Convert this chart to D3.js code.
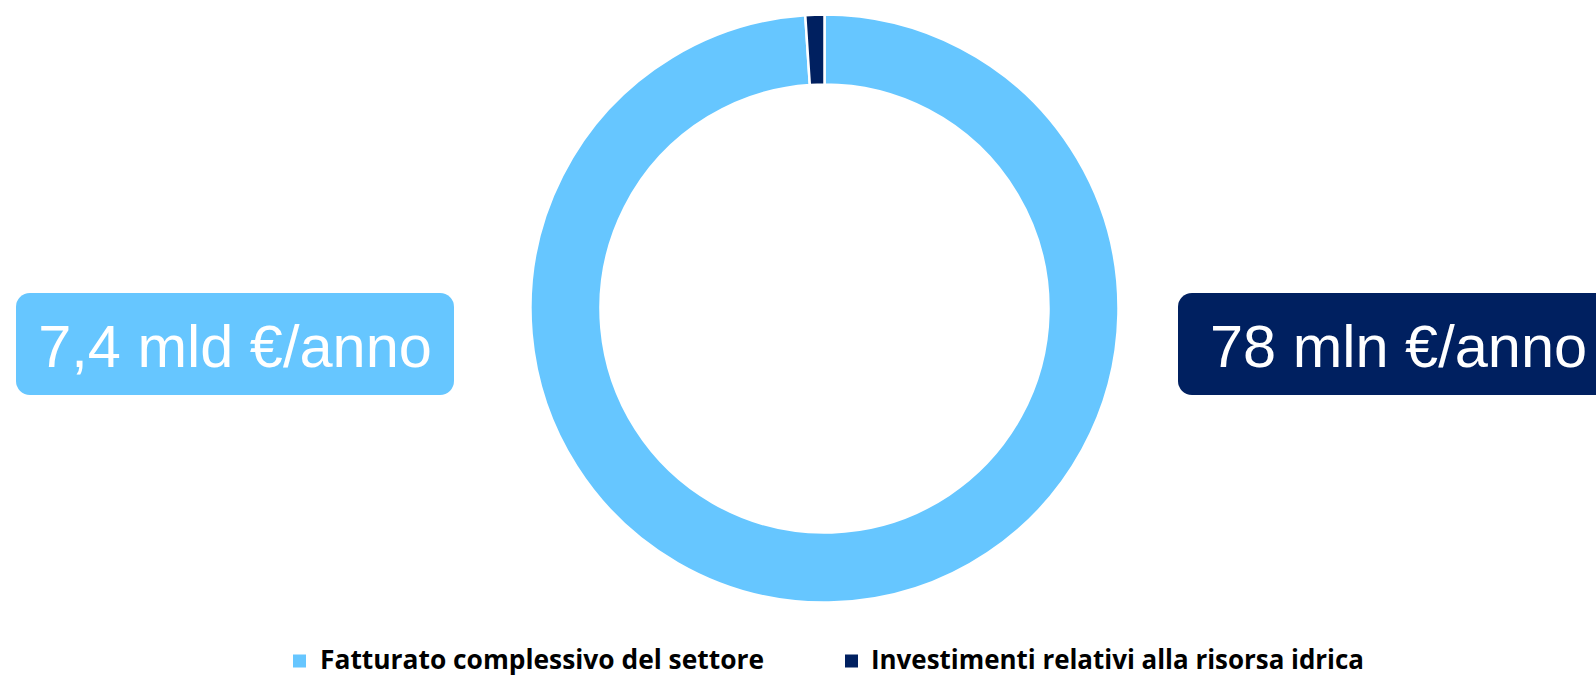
<!DOCTYPE html>
<html>
<head>
<meta charset="utf-8">
<script src="https://cdn.jsdelivr.net/npm/d3@7"></script>
<style>
  html, body { margin: 0; padding: 0; background: #ffffff; }
  svg { display: block; }
</style>
</head>
<body>
<svg id="chart" width="1596" height="675"></svg>
<script>
// Series: sector revenue vs. water-resource investments (mln €/anno)
const categories = ["Fatturato complessivo del settore", "Investimenti relativi alla risorsa idrica"];
const values = [7400, 78];
const valueLabels = ["7,4 mld €/anno", "78 mln €/anno"];
const colors = ["#66c6ff", "#002060"];

const svg = d3.select("#chart");
const cx = 824.5, cy = 308.5;
const outerR = 294, innerR = 224;

const pie = d3.pie().sort(null).value(d => d.value);
const arc = d3.arc().innerRadius(innerR).outerRadius(outerR);

const data = categories.map((c, i) => ({ name: c, value: values[i], color: colors[i] }));

svg.append("g")
  .attr("transform", `translate(${cx},${cy})`)
  .selectAll("path")
  .data(pie(data))
  .join("path")
  .attr("d", arc)
  .attr("fill", d => d.data.color)
  .attr("stroke", "#ffffff")
  .attr("stroke-width", 2.5)
  .attr("stroke-linejoin", "round");

// Value callouts on either side of the ring
const callouts = [
  { x: 16, w: 438, textX: 235, anchor: "middle" },
  { x: 1178, w: 450, textX: 1210, anchor: "start" }
];
const cg = svg.append("g");
callouts.forEach((c, i) => {
  cg.append("rect")
    .attr("x", c.x).attr("y", 293)
    .attr("width", c.w).attr("height", 102)
    .attr("rx", 14).attr("ry", 14)
    .attr("fill", colors[i]);
  cg.append("text")
    .attr("x", c.textX).attr("y", 367)
    .attr("text-anchor", c.anchor)
    .attr("fill", "#ffffff")
    .attr("font-family", "'Liberation Sans', Arial, sans-serif")
    .attr("font-size", 59.5)
    .text(valueLabels[i]);
});

// Legend
const legendItems = [
  { sx: 293, tx: 320, len: 444 },
  { sx: 845, tx: 871, len: 493 }
];
const lg = svg.append("g");
legendItems.forEach((l, i) => {
  lg.append("rect")
    .attr("x", l.sx).attr("y", 654.5)
    .attr("width", 13).attr("height", 13)
    .attr("fill", colors[i]);
  lg.append("text")
    .attr("x", l.tx).attr("y", 668.5)
    .attr("fill", "#000000")
    .attr("font-family", "'Open Sans', 'Noto Sans', sans-serif")
    .attr("font-weight", "bold")
    .attr("font-size", 26)
    .attr("textLength", l.len)
    .attr("lengthAdjust", "spacingAndGlyphs")
    .text(categories[i]);
});
</script>
</body>
</html>
